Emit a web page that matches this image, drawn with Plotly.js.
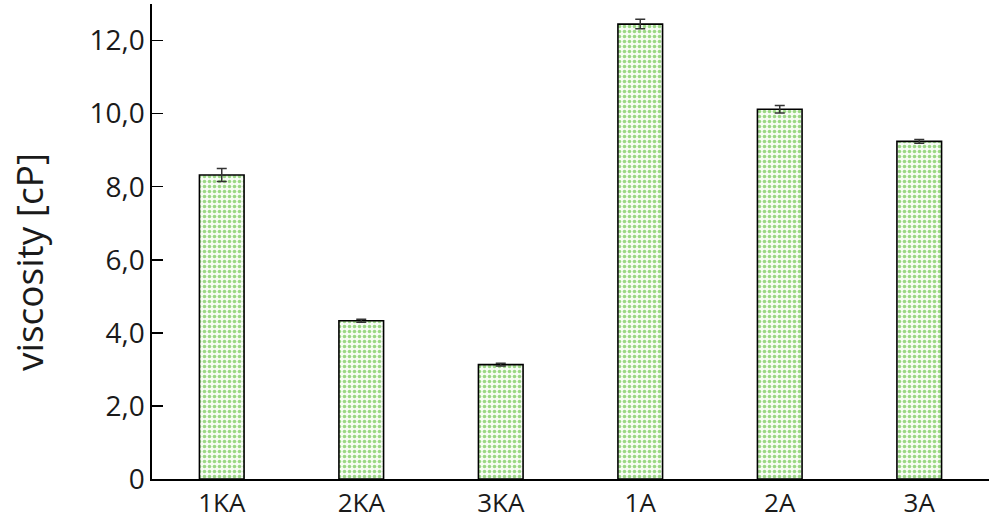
<!DOCTYPE html>
<html>
<head>
<meta charset="utf-8">
<script src="https://cdn.plot.ly/plotly-3.0.1.min.js"></script>
<style>html,body{margin:0;padding:0;background:#fff;}#chart{width:992px;height:519px;}</style>
</head>
<body>
<div id="chart"></div>
<script>
const categories = ["1KA", "2KA", "3KA", "1A", "2A", "3A"];
const viscosity = [8.32, 4.33, 3.13, 12.45, 10.12, 9.24];
const viscosityErr = [0.18, 0.04, 0.04, 0.13, 0.1, 0.05];
const yTickVals = [0, 2, 4, 6, 8, 10, 12];
const yTickText = ["0", "2,0", "4,0", "6,0", "8,0", "10,0", "12,0"];
const yTitle = "viscosity [cP]";

const trace = {
  type: "bar",
  x: categories,
  y: viscosity,
  error_y: {type: "data", array: viscosityErr, visible: true, color: "#333", thickness: 1.5, width: 5},
  marker: {
    color: "#f4faf0",
    line: {color: "#000", width: 1.6},
    pattern: {shape: ".", fgcolor: "#9ad784", bgcolor: "#f7fcf4", size: 5, solidity: 0.4, fillmode: "replace"}
  },
  hoverinfo: "skip"
};

const layout = {
  width: 992, height: 519,
  margin: {l: 152, r: 3, t: 4, b: 40},
  paper_bgcolor: "#fff", plot_bgcolor: "#fff",
  bargap: 0.68,
  showlegend: false,
  font: {family: "Open Sans, Noto Sans, sans-serif", color: "#1a1a1a"},
  xaxis: {
    type: "category",
    showline: true, linecolor: "#000", linewidth: 1.6,
    ticks: "", showgrid: false, zeroline: false,
    tickfont: {size: 26, color: "#1a1a1a"},
    ticklen: 0
  },
  yaxis: {
    range: [0, 13],
    showline: true, linecolor: "#000", linewidth: 1.6,
    ticks: "inside", ticklen: 11, tickwidth: 1.6, tickcolor: "#000",
    tickvals: yTickVals, ticktext: yTickText,
    tickfont: {size: 28, color: "#1a1a1a"},
    showgrid: false, zeroline: false
  },
  annotations: [{
    text: yTitle, textangle: -90, showarrow: false,
    xref: "paper", yref: "paper", x: -0.147, y: 0.457,
    xanchor: "center", yanchor: "middle",
    font: {size: 37, color: "#1a1a1a"}
  }]
};

Plotly.newPlot("chart", [trace], layout, {staticPlot: true, displayModeBar: false});
</script>
</body>
</html>
